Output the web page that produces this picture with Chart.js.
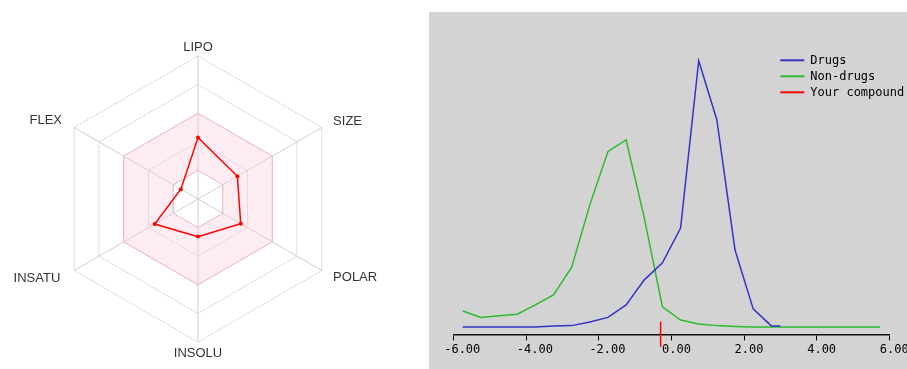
<!DOCTYPE html>
<html lang="en">
<head>
  <meta charset="UTF-8" />
  <title>Bioavailability radar and distribution</title>
  <script src="https://cdn.jsdelivr.net/npm/chart.js@4"></script>
  <style>
    * { margin: 0; padding: 0; box-sizing: border-box; }
    body { width: 907px; height: 369px; background: #fff; position: relative; overflow: hidden; }
    #radarBox { position: absolute; left: 0; top: 0; width: 396px; height: 369px; }
    #distBox { position: absolute; left: 429px; top: 12px; width: 478px; height: 357px; background: #d3d3d3; }
  </style>
</head>
<body>
  <div id="radarBox"><canvas id="radarChart"></canvas></div>
  <div id="distBox"><canvas id="distChart"></canvas></div>

  <script>
    // radar: properties of the compound, scaled 0..1
    const radarAxes = ["LIPO", "SIZE", "POLAR", "INSOLU", "INSATU", "FLEX"];
    const compound = [0.43, 0.318, 0.345, 0.263, 0.35, 0.138];
    const rangeHigh = [0.6, 0.6, 0.6, 0.6, 0.6, 0.6];
    const rangeLow = [0.2, 0.2, 0.2, 0.2, 0.2, 0.2];

    // distribution curves
    const drugX = [-5.75, -5.25, -4.75, -4.25, -3.75, -3.25, -2.75, -2.25, -1.75, -1.25, -0.75, -0.25, 0.25, 0.75, 1.25, 1.75, 2.25, 2.75, 3.0];
    const drugY = [0.2, 0.2, 0.2, 0.2, 0.2, 0.6, 0.7, 2.1, 3.8, 8.5, 17.9, 24.3, 37.4, 100.3, 78.0, 29.1, 7.0, 0.6, 0.6];
    const nonDrugX = [-5.75, -5.25, -4.75, -4.25, -3.75, -3.25, -2.75, -2.25, -1.75, -1.25, -0.75, -0.25, 0.25, 0.75, 1.25, 1.75, 2.25, 2.75, 3.25, 3.75, 4.25, 4.75, 5.25, 5.75];
    const nonDrugY = [6.2, 3.8, 4.4, 5.0, 8.5, 12.2, 22.7, 46.1, 66.2, 70.5, 41.2, 7.8, 2.8, 1.3, 0.7, 0.4, 0.2, 0.2, 0.2, 0.2, 0.2, 0.2, 0.2, 0.2];
    const compoundX = [-0.3, -0.3];
    const compoundY = [2.2, -7.2];
    const xTicks = [-6, -4, -2, 0, 2, 4, 6];

    const toPoints = (xs, ys) => xs.map((x, i) => ({ x: x, y: ys[i] }));

    // axis names drawn just outside the outer hexagon
    const radarLabels = {
      id: 'radarLabels',
      afterDraw(chart) {
        const r = chart.scales.r, ctx = chart.ctx;
        const gaps = [9, 13, 13, 11, 16, 14];
        ctx.save();
        ctx.font = '13px "Liberation Sans", Arial, sans-serif';
        ctx.fillStyle = '#333';
        ctx.textBaseline = 'middle';
        chart.data.labels.forEach((lab, i) => {
          const p = r.getPointPosition(i, r.drawingArea + gaps[i]);
          ctx.textAlign = (i === 0 || i === 3) ? 'center' : (i < 3 ? 'left' : 'right');
          ctx.fillText(lab, p.x, p.y);
        });
        ctx.restore();
      }
    };

    new Chart(radarChart, {
      type: 'radar',
      data: {
        labels: radarAxes,
        datasets: [
          { label: 'compound', data: compound, borderColor: '#ff0000', borderWidth: 1.5, backgroundColor: 'transparent',
            pointRadius: 2, pointBackgroundColor: '#ff0000', pointBorderWidth: 0, fill: false },
          { label: 'high', data: rangeHigh, borderColor: '#f2b8c6', borderWidth: 1, backgroundColor: 'rgba(250, 200, 215, 0.35)',
            pointRadius: 0, fill: '+1' },
          { label: 'low', data: rangeLow, borderColor: '#f2b8c6', borderWidth: 1, pointRadius: 0, fill: false }
        ]
      },
      options: {
        responsive: true,
        maintainAspectRatio: false,
        animation: false,
        layout: { padding: { top: 56, bottom: 27, left: 0, right: 0 } },
        plugins: { legend: { display: false }, tooltip: { enabled: false } },
        scales: {
          r: {
            min: 0, max: 1,
            ticks: { display: false, stepSize: 0.2 },
            pointLabels: { display: false },
            grid: { color: '#bdbdbd', lineWidth: 1 },
            border: { dash: [1, 1] },
            angleLines: { color: '#cfcfcf', lineWidth: 1 }
          }
        }
      },
      plugins: [radarLabels]
    });

    // legend with short lines, top right of the plot
    const lineLegend = {
      id: 'lineLegend',
      afterDraw(chart) {
        const ctx = chart.ctx, a = chart.chartArea;
        const x0 = a.right - 109, y0 = a.top + 40.3;
        ctx.save();
        ctx.font = '12px "DejaVu Sans Mono", monospace';
        ctx.textBaseline = 'middle';
        ctx.textAlign = 'left';
        chart.data.datasets.forEach((ds, i) => {
          const y = y0 + i * 16;
          ctx.strokeStyle = ds.borderColor;
          ctx.lineWidth = 2;
          ctx.beginPath();
          ctx.moveTo(x0, y);
          ctx.lineTo(x0 + 24, y);
          ctx.stroke();
          ctx.fillStyle = '#000';
          ctx.fillText(ds.label, x0 + 30, y + 0.5);
        });
        ctx.restore();
      }
    };

    new Chart(distChart, {
      type: 'line',
      data: {
        datasets: [
          { label: 'Drugs', data: toPoints(drugX, drugY), borderColor: '#3434c4', borderWidth: 1.5, pointRadius: 0, tension: 0 },
          { label: 'Non-drugs', data: toPoints(nonDrugX, nonDrugY), borderColor: '#2cbb2c', borderWidth: 1.5, pointRadius: 0, tension: 0 },
          { label: 'Your compound', data: toPoints(compoundX, compoundY), borderColor: '#ff0000', borderWidth: 1.5, pointRadius: 0, clip: false }
        ]
      },
      options: {
        responsive: true,
        maintainAspectRatio: false,
        animation: false,
        layout: { padding: { top: 8, left: 24.7, right: 17.7, bottom: 0 } },
        plugins: { legend: { display: false }, tooltip: { enabled: false } },
        scales: {
          x: {
            type: 'linear',
            min: -6, max: 6,
            afterBuildTicks: s => { s.ticks = xTicks.map(v => ({ value: v })); },
            afterFit: s => { s.height = 34.6; s.paddingLeft = 0; s.paddingRight = 0; },
            ticks: {
              align: 'start', labelOffset: -9.5, padding: 2, maxRotation: 0, autoSkip: false,
              color: '#000', font: { family: '"DejaVu Sans Mono", monospace', size: 12 },
              callback: v => v.toFixed(2)
            },
            grid: { drawOnChartArea: false, tickLength: 6, tickColor: '#000', tickWidth: 1 },
            border: { display: true, color: '#111', width: 1.5 }
          },
          y: { display: false, min: -2.6, max: 115.6 }
        }
      },
      plugins: [lineLegend]
    });
  </script>
</body>
</html>
